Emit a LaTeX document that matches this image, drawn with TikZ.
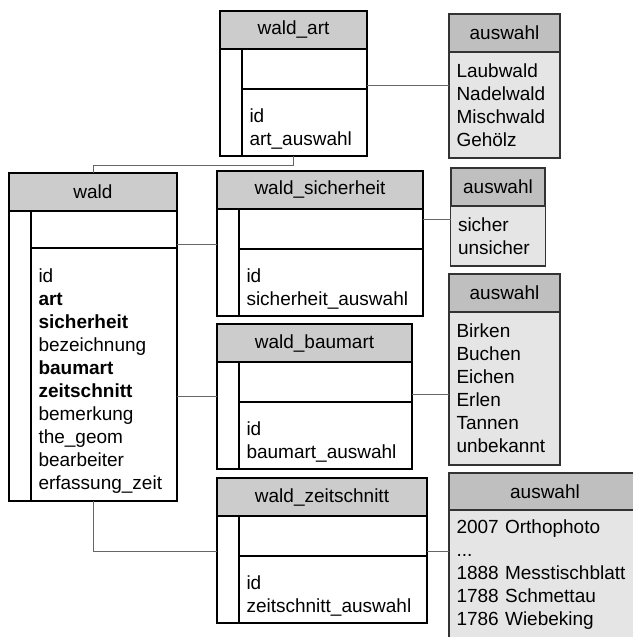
\documentclass[tikz,border=0pt]{standalone}
\usepackage{fontspec}
\setmainfont{Liberation Sans}
\usetikzlibrary{positioning}
\tikzset{
    tabhead/.style={rectangle, draw, fill=black!20, line width=1.2pt, inner sep=0pt, outer sep=0pt, minimum height=38pt, anchor=north west},
    gutter/.style={rectangle, draw, fill=white, line width=1.2pt, inner sep=0pt, outer sep=0pt, minimum width=22pt, anchor=north west},
    keyrow/.style={rectangle, draw, fill=white, line width=1.2pt, inner sep=0pt, outer sep=0pt, minimum height=40pt, anchor=north west},
    tabbody/.style={rectangle, draw, fill=white, line width=1.2pt, inner xsep=7.5pt, inner ysep=0pt, outer sep=0pt, align=left, execute at begin node={\rule{0pt}{26pt}}},
    awhead/.style={rectangle, draw=black!80, fill=black!25, line width=1.2pt, inner sep=0pt, outer sep=0pt, minimum height=38pt, anchor=north west},
    awbody/.style={rectangle, draw=black!80, fill=black!10, line width=1.2pt, inner xsep=7.5pt, inner ysep=0pt, outer sep=0pt, align=left},
    link/.style={draw=black!60, line width=0.9pt}
}
\begin{document}
\begin{tikzpicture}[x=1pt, y=-1pt, font=\fontsize{19}{23}\selectfont]
\useasboundingbox (0,0) rectangle (632,637);

% tables
\node (art) [tabhead, minimum width=147pt] at (220,11) {wald\_art};
\node (artgut) [gutter, minimum height=107pt] at (art.south west) {};
\node (artkey) [keyrow, minimum width=125pt] at (artgut.north east) {};
\node (artbody) [tabbody, text width=110pt, minimum width=125pt, minimum height=67pt, below=0pt of artkey] {id\\art\_auswahl};

\node (wald) [tabhead, minimum width=168pt] at (9,173) {wald};
\node (waldgut) [gutter, minimum height=290pt] at (wald.south west) {};
\node (waldkey) [keyrow, minimum width=146pt, minimum height=37pt] at (waldgut.north east) {};
\node (waldbody) [tabbody, text width=131pt, minimum width=146pt, minimum height=253pt, below=0pt of waldkey] {id\\\textbf{art}\\\textbf{sicherheit}\\bezeichnung\\\textbf{baumart}\\\textbf{zeitschnitt}\\bemerkung\\the\_geom\\bearbeiter\\erfassung\_zeit};

\node (sich) [tabhead, minimum width=206pt] at (217,171) {wald\_sicherheit};
\node (sichgut) [gutter, minimum height=107pt] at (sich.south west) {};
\node (sichkey) [keyrow, minimum width=184pt] at (sichgut.north east) {};
\node (sichbody) [tabbody, text width=169pt, minimum width=184pt, minimum height=67pt, below=0pt of sichkey] {id\\sicherheit\_auswahl};

\node (baum) [tabhead, minimum width=195pt] at (217,324) {wald\_baumart};
\node (baumgut) [gutter, minimum height=107pt] at (baum.south west) {};
\node (baumkey) [keyrow, minimum width=173pt] at (baumgut.north east) {};
\node (baumbody) [tabbody, text width=158pt, minimum width=173pt, minimum height=67pt, below=0pt of baumkey] {id\\baumart\_auswahl};

\node (zeit) [tabhead, minimum width=210pt] at (217,478) {wald\_zeitschnitt};
\node (zeitgut) [gutter, minimum height=107pt] at (zeit.south west) {};
\node (zeitkey) [keyrow, minimum width=188pt] at (zeitgut.north east) {};
\node (zeitbody) [tabbody, text width=173pt, minimum width=188pt, minimum height=67pt, below=0pt of zeitkey] {id\\zeitschnitt\_auswahl};

% value lists
\node (aw1) [awhead, minimum width=111pt] at (449,14) {auswahl};
\node (aw1body) [awbody, text width=96pt, minimum width=111pt, minimum height=106pt, below=0pt of aw1] {Laubwald\\Nadelwald\\Mischwald\\Gehölz};

\node (aw2) [awhead, minimum width=94pt] at (451,168) {auswahl};
\node (aw2body) [awbody, text width=80pt, minimum width=94pt, minimum height=60pt, below=0pt of aw2] {sicher\\unsicher};

\node (aw3) [awhead, minimum width=111pt] at (449,274) {auswahl};
\node (aw3body) [awbody, text width=96pt, minimum width=111pt, minimum height=153pt, below=0pt of aw3] {Birken\\Buchen\\Eichen\\Erlen\\Tannen\\unbekannt};

\node (aw4) [awhead, minimum width=192pt, minimum height=37pt] at (449,473) {auswahl};
\node (aw4body) [awbody, text width=177pt, minimum width=192pt, minimum height=130pt, below=0pt of aw4] {2007 Orthophoto\\...\\1888 Messtischblatt\\1788 Schmettau\\1786 Wiebeking};

% links
\draw[link] (art.south |- artbody.south) -- ++(0,9) -| (wald.north);
\draw[link] ([yshift=4pt]artkey.south east) coordinate (a1) -- (a1 -| aw1.west);
\draw[link] ([yshift=-10pt]sichkey.north east) coordinate (s1) -- (s1 -| aw2.west);
\draw[link] ([yshift=-35pt]sichgut.north west) coordinate (s2) -- (s2 -| wald.east);
\draw[link] ([yshift=8pt]baumkey.south east) coordinate (b1) -- (b1 -| aw3.west);
\draw[link] ([yshift=-34pt]baumgut.north west) coordinate (b2) -- (b2 -| wald.east);
\draw[link] ([yshift=5pt]zeitkey.south east) coordinate (z1) -- (z1 -| aw4.west);
\draw[link] (wald.south |- waldbody.south) |- (z1 -| zeitgut.west);
\end{tikzpicture}
\end{document}
